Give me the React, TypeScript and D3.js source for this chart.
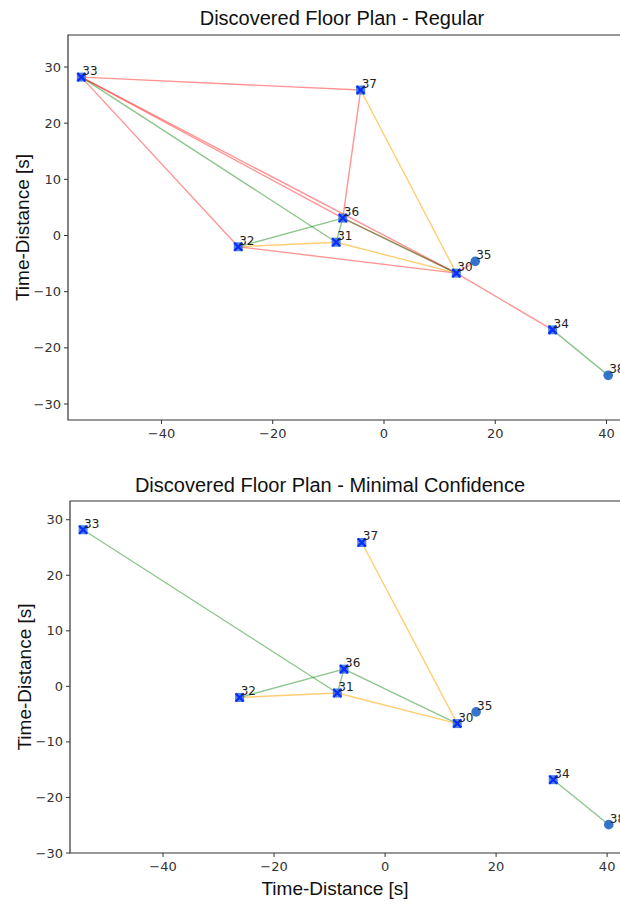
import React from 'react';
import * as d3 from 'd3';

// node positions (time-distance, seconds)
const nodeIds = ['30', '31', '32', '33', '34', '35', '36', '37', '38'];
const nodeX = [13.0, -8.6, -26.2, -54.4, 30.3, 16.4, -7.4, -4.2, 40.3];
const nodeY = [-6.7, -1.2, -2.0, 28.2, -16.8, -4.6, 3.1, 25.9, -24.9];
// nodes drawn with a cross on top of the square
const crossNodes = ['30', '31', '32', '33', '34', '36', '37'];

const xTicks = [-40, -20, 0, 20, 40];
const yTicks = [-30, -20, -10, 0, 10, 20, 30];

// [from, to, kind]
const regularEdges = [
    ['33', '37', 'red'],
    ['33', '36', 'red'],
    ['33', '30', 'red'],
    ['33', '32', 'red'],
    ['33', '31', 'green'],
    ['37', '36', 'red'],
    ['37', '30', 'orange'],
    ['36', '32', 'green'],
    ['36', '31', 'green'],
    ['36', '30', 'red'],
    ['36', '30', 'green'],
    ['32', '31', 'orange'],
    ['31', '30', 'orange'],
    ['32', '30', 'red'],
    ['30', '35', 'red'],
    ['30', '34', 'red'],
    ['34', '38', 'green'],
];

const minimalEdges = [
    ['33', '31', 'green'],
    ['37', '30', 'orange'],
    ['36', '32', 'green'],
    ['36', '31', 'green'],
    ['36', '30', 'green'],
    ['32', '31', 'orange'],
    ['31', '30', 'orange'],
    ['34', '38', 'green'],
];

const edgeColor: Record<string, string> = {
    red: 'rgba(255,0,0,0.42)',
    green: 'rgba(0,128,0,0.45)',
    orange: 'rgba(255,165,0,0.55)',
};

const W = 620;
const H = 904;
const labelFont = '"Liberation Sans", Arial, sans-serif';
const tickFont = '"DejaVu Sans", sans-serif';

type PanelProps = {
    title: string;
    edges: string[][];
    left: number;
    top: number;
    bottom: number;
    right: number;
    xDomain: [number, number];
    yDomain: [number, number];
    titleX: number;
    titleY: number;
    yLabelX: number;
    xLabelX?: number;
};

const Panel = (props: PanelProps) => {
    const { left, top, bottom, right } = props;
    const x = d3.scaleLinear().domain(props.xDomain).range([left, right]);
    const y = d3.scaleLinear().domain(props.yDomain).range([bottom, top]);
    const idx = (id: string) => nodeIds.indexOf(id);
    const clipId = 'clip' + top;

    return (
        <g>
            <defs>
                <clipPath id={clipId}>
                    <rect x={left} y={top} width={right - left} height={bottom - top} />
                </clipPath>
            </defs>
            <text x={props.titleX} y={props.titleY} textAnchor="middle" fontFamily={labelFont} fontSize={20} fill="#111">
                {props.title}
            </text>

            <g clipPath={`url(#${clipId})`}>
                {props.edges.map((e, i) => (
                    <line
                        key={i}
                        x1={x(nodeX[idx(e[0])])}
                        y1={y(nodeY[idx(e[0])])}
                        x2={x(nodeX[idx(e[1])])}
                        y2={y(nodeY[idx(e[1])])}
                        stroke={edgeColor[e[2]]}
                        strokeWidth={1.4}
                    />
                ))}
                {nodeIds.map((id, i) => {
                    const px = x(nodeX[i]);
                    const py = y(nodeY[i]);
                    const crossed = crossNodes.includes(id);
                    return (
                        <g key={id}>
                            {crossed ? (
                                <rect x={px - 4.5} y={py - 4.5} width={9} height={9} fill="#2f6fd8" opacity={0.85} />
                            ) : (
                                <circle cx={px} cy={py} r={4.8} fill="#1f66c8" opacity={0.9} />
                            )}
                            {crossed && (
                                <path
                                    d={`M${px - 4},${py - 4}L${px + 4},${py + 4}M${px - 4},${py + 4}L${px + 4},${py - 4}`}
                                    stroke="#0a2cff"
                                    strokeWidth={2.2}
                                />
                            )}
                            <text x={px + 1} y={py - 2} fontFamily={tickFont} fontSize={12} fill="#222">
                                {id}
                            </text>
                        </g>
                    );
                })}
            </g>

            {/* spines */}
            <path
                d={`M${right},${top}H${left}V${bottom}H${right}`}
                fill="none"
                stroke="#333"
                strokeWidth={1.2}
            />

            {xTicks.map((t) => (
                <g key={'x' + t} transform={`translate(${x(t)},${bottom})`}>
                    <line y2={4} stroke="#333" />
                    <text y={18} textAnchor="middle" fontFamily={tickFont} fontSize={13} fill="#333">
                        {t < 0 ? '\u2212' + Math.abs(t) : t}
                    </text>
                </g>
            ))}
            {yTicks.map((t) => (
                <g key={'y' + t} transform={`translate(${left},${y(t)})`}>
                    <line x2={-4} stroke="#333" />
                    <text x={-7} dy="0.35em" textAnchor="end" fontFamily={tickFont} fontSize={13} fill="#333">
                        {t < 0 ? '\u2212' + Math.abs(t) : t}
                    </text>
                </g>
            ))}

            <text
                transform={`translate(${props.yLabelX},${(top + bottom) / 2}) rotate(-90)`}
                textAnchor="middle"
                fontFamily={labelFont}
                fontSize={19}
                fill="#111"
            >
                Time-Distance [s]
            </text>
            {props.xLabelX !== undefined && (
                <text x={props.xLabelX} y={bottom + 42} textAnchor="middle" fontFamily={labelFont} fontSize={19} fill="#111">
                    Time-Distance [s]
                </text>
            )}
        </g>
    );
};

const App = () => {
    return (
        <div style={{ position: 'absolute', left: 0, top: 0 }}>
            <svg width={W} height={H} viewBox={`0 0 ${W} ${H}`} style={{ display: 'block', background: '#fff' }}>
                <Panel
                    title="Discovered Floor Plan - Regular"
                    edges={regularEdges}
                    left={68}
                    top={35}
                    bottom={420}
                    right={621}
                    xDomain={[-56.8, 42.6]}
                    yDomain={[-32.85, 35.7]}
                    titleX={342}
                    titleY={25}
                    yLabelX={29}
                />
                <Panel
                    title="Discovered Floor Plan - Minimal Confidence"
                    edges={minimalEdges}
                    left={70}
                    top={501}
                    bottom={853}
                    right={621}
                    xDomain={[-56.76, 42.5]}
                    yDomain={[-30, 33.37]}
                    titleX={330}
                    titleY={492}
                    yLabelX={31}
                    xLabelX={335}
                />
            </svg>
        </div>
    );
};

export default App;
